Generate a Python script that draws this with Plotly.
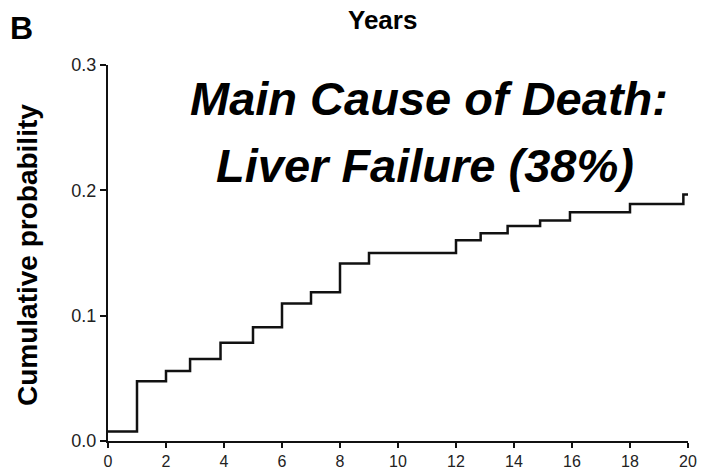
import plotly.graph_objects as go

# Data: cumulative probability step function (years)
years = [0, 1, 2, 2.83, 3.88, 5, 6, 7, 8, 9, 12, 12.85, 13.78, 14.9, 15.93, 18, 19.84, 20]
cum_prob = [0.0075, 0.0477, 0.0558, 0.0655, 0.0784, 0.0908, 0.1097, 0.1186, 0.1416, 0.1500,
            0.1602, 0.1658, 0.1716, 0.1760, 0.1826, 0.1890, 0.1966, 0.1966]
x_ticks = [0, 2, 4, 6, 8, 10, 12, 14, 16, 18, 20]
y_ticks = [0.0, 0.1, 0.2, 0.3]
y_tick_text = ["0.0", "0.1", "0.2", "0.3"]

W, H = 702, 471
L, R, T, B = 108, 14, 65, 30
PW, PH = W - L - R, H - T - B

def px(x):
    return (x - L) / PW

def py(y):
    return (H - B - y) / PH

FONT = "Liberation Sans, Arial, Helvetica, sans-serif"

fig = go.Figure()
fig.add_trace(go.Scatter(
    x=years, y=cum_prob, mode="lines", line=dict(shape="hv", color="#111111", width=2.5),
    hoverinfo="skip", showlegend=False, cliponaxis=False,
))

fig.update_layout(
    width=W, height=H,
    margin=dict(l=L, r=R, t=T, b=B, pad=0, autoexpand=False),
    paper_bgcolor="white", plot_bgcolor="white",
    font=dict(family=FONT, color="#111111"),
    xaxis=dict(range=[0, 20], tickvals=x_ticks, ticks="outside", ticklen=5, tickwidth=1.5,
               tickcolor="#111111", showline=True, linecolor="#111111", linewidth=2,
               showgrid=False, zeroline=False, automargin=False,
               tickfont=dict(size=16, family=FONT, color="#222222")),
    yaxis=dict(range=[0, 0.3], tickvals=y_ticks, ticktext=y_tick_text, ticks="outside", ticklen=6,
               tickwidth=1.5, tickcolor="#111111", showline=True, linecolor="#111111", linewidth=2,
               showgrid=False, zeroline=False, automargin=False,
               tickfont=dict(size=18, family=FONT, color="#222222")),
)

ann = [
    dict(text="<b>B</b>", x=px(21.5), y=py(27.5), size=32, angle=0),
    dict(text="<b>Years</b>", x=px(382), y=py(20), size=26, angle=0),
    dict(text="<b><i>Main Cause of Death:</i></b>", x=px(429), y=py(98), size=47, angle=0),
    dict(text="<b><i>Liver Failure (38%)</i></b>", x=px(425), y=py(165), size=47, angle=0),
    dict(text="<b>Cumulative probability</b>", x=px(28), y=py(255), size=28, angle=-90),
]
for a in ann:
    fig.add_annotation(text=a["text"], x=a["x"], y=a["y"], xref="paper", yref="paper",
                       xanchor="center", yanchor="middle", showarrow=False, textangle=a["angle"],
                       font=dict(size=a["size"], family=FONT, color="black"))

fig.write_html("out.html")
